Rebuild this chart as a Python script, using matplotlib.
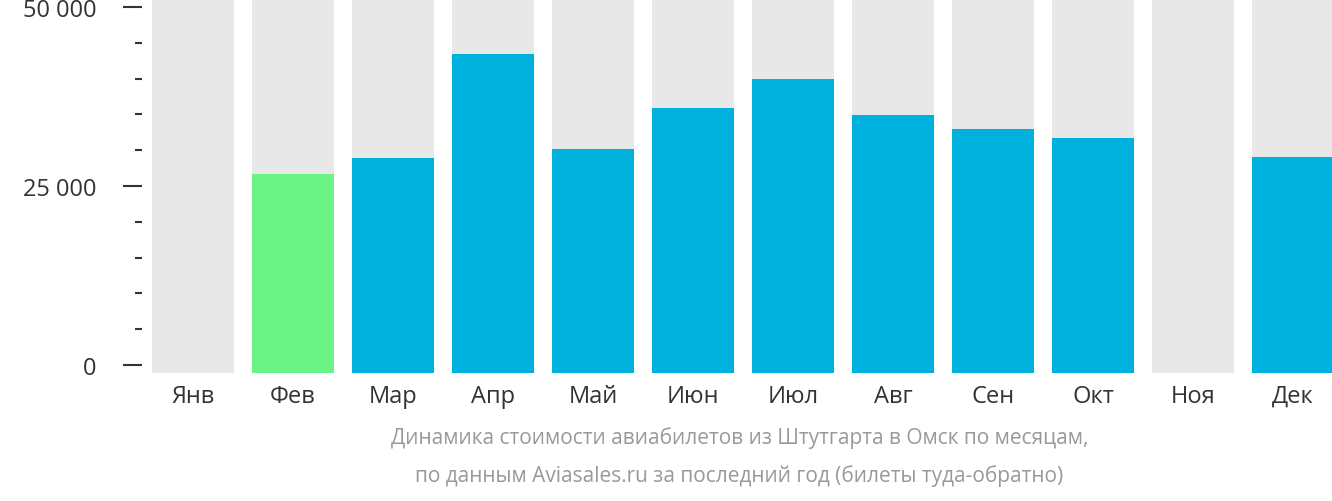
import matplotlib.pyplot as plt
from matplotlib.ticker import MultipleLocator

months = ["Янв", "Фев", "Мар", "Апр", "Май", "Июн", "Июл", "Авг", "Сен", "Окт", "Ноя", "Дек"]
prices = [0, 26700, 28900, 43400, 30200, 35900, 39900, 34900, 33000, 31700, 0, 29000]
colors = ["#00b1dd"] * 12
colors[1] = "#6cf387"
ytick_vals = [0, 25000, 50000]
ytick_labels = ["0 ₽", "25 000 ₽", "50 000 ₽"]

plt.rcParams["font.family"] = "Open Sans"
fig = plt.figure(figsize=(13.32, 5.02), dpi=100)
ax = fig.add_axes([142 / 1332, 128 / 502, 1 - 142 / 1332, 374 / 502])
ymin, ymax = -1117, 51117
x = range(len(months))
ax.bar(x, [ymax - ymin] * 12, bottom=ymin, width=0.82, color="#e8e8e8")
vals = [p - ymin if p else 0 for p in prices]
ax.bar(x, vals, bottom=ymin, width=0.82, color=colors)
ax.set_xlim(-0.51, 11.39)
ax.set_ylim(ymin, ymax)
for s in ax.spines.values():
    s.set_visible(False)
ax.set_xticks(list(x))
ax.set_xticklabels(months, fontsize=17, color="#333333")
ax.tick_params(axis="x", length=0, pad=8)
ax.set_yticks(ytick_vals)
ax.set_yticklabels(ytick_labels, fontsize=17, color="#333333")
ax.yaxis.set_minor_locator(MultipleLocator(5000))
ax.tick_params(axis="y", which="major", length=14, width=1.5, color="#333333", pad=4)
ax.tick_params(axis="y", which="minor", length=5, width=1.5, color="#333333")
fig.text(0.555, 0.115, "Динамика стоимости авиабилетов из Штутгарта в Омск по месяцам,",
         ha="center", fontsize=15, color="#999999")
fig.text(0.555, 0.04, "по данным Aviasales.ru за последний год (билеты туда-обратно)",
         ha="center", fontsize=15, color="#999999")
fig.savefig("out.png", dpi=100)
